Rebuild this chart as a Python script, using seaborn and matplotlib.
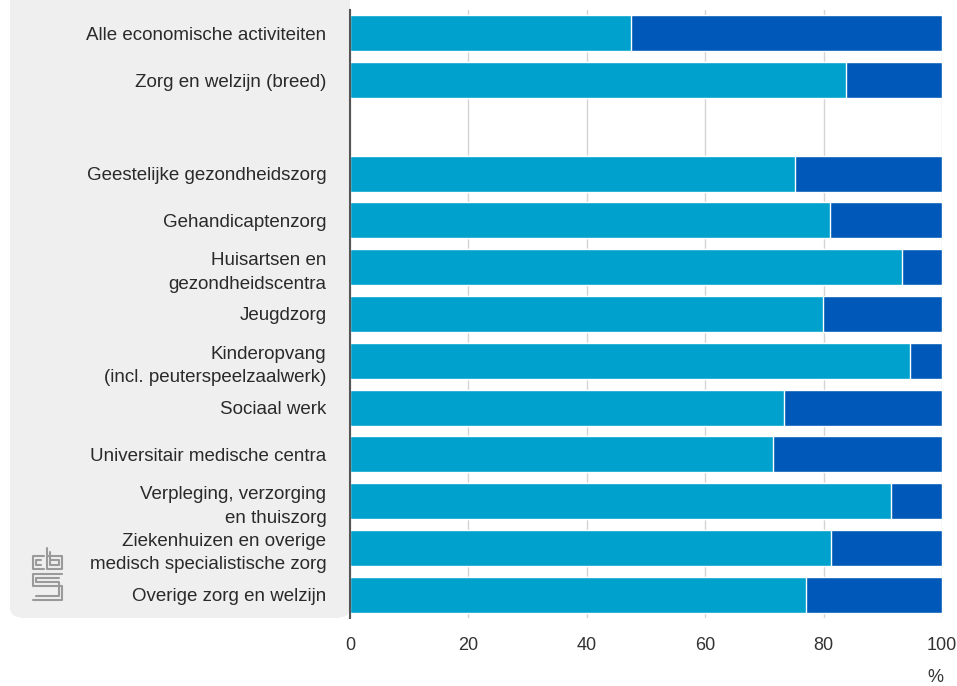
import pandas as pd
import matplotlib
matplotlib.use("Agg")
import matplotlib.pyplot as plt
import seaborn as sns
from matplotlib.patches import FancyBboxPatch
from matplotlib.lines import Line2D

# categorieen (lege rij tussen totaal en branches)
categories = [
    "Alle economische activiteiten",
    "Zorg en welzijn (breed)",
    " ",
    "Geestelijke gezondheidszorg",
    "Gehandicaptenzorg",
    "Huisartsen en\ngezondheidscentra",
    "Jeugdzorg",
    "Kinderopvang\n(incl. peuterspeelzaalwerk)",
    "Sociaal werk",
    "Universitair medische centra",
    "Verpleging, verzorging\nen thuiszorg",
    "Ziekenhuizen en overige\nmedisch specialistische zorg",
    "Overige zorg en welzijn",
]
# aandeel lichte reeks (%), rest tot 100 is donkere reeks
share_light = [47.5, 83.8, None, 75.2, 81.1, 93.2, 79.9, 94.6, 73.3, 71.5, 91.4, 81.3, 77.0]
total = [100, 100, None, 100, 100, 100, 100, 100, 100, 100, 100, 100, 100]
x_ticks = [0, 20, 40, 60, 80, 100]

light_blue = "#00a1cd"
dark_blue = "#0058b8"

sns.set_style("white")
plt.rcParams["font.family"] = ["Liberation Sans", "DejaVu Sans"]

df = pd.DataFrame({"cat": categories, "light": share_light, "total": total})
df = df.dropna()

fig = plt.figure(figsize=(9.57, 6.86), dpi=100)

# grijs paneel achter de labels
panel = FancyBboxPatch((10 / 957, 1 - 618 / 686), (350 - 10) / 957, 1.2,
                       boxstyle="round,pad=0,rounding_size=0.015",
                       transform=fig.transFigure, facecolor="#efefef",
                       edgecolor="none", zorder=-1)
fig.patches.append(panel)

ax = fig.add_axes([350 / 957, 1 - 618 / 686, (942 - 350) / 957, (618 - 10) / 686])
ax.set_facecolor("none")

sns.barplot(data=df, y="cat", x="total", order=categories, color=dark_blue,
            width=0.77, edgecolor="white", linewidth=1, saturation=1, ax=ax, zorder=2)
sns.barplot(data=df, y="cat", x="light", order=categories, color=light_blue,
            width=0.77, edgecolor="white", linewidth=1, saturation=1, ax=ax, zorder=3)

ax.set_xlim(0, 100)
ax.set_ylim(12.5, -0.5)
ax.set_xticks(x_ticks)
ax.grid(axis="x", color="#d4d4d4", linewidth=1, zorder=0)
ax.set_axisbelow(True)
ax.set_xlabel("")
ax.set_ylabel("")
for s in ["top", "right", "bottom"]:
    ax.spines[s].set_visible(False)
ax.spines["left"].set_color("#555555")
ax.spines["left"].set_linewidth(1.5)
ax.spines["left"].set_zorder(5)
ax.tick_params(axis="y", length=0, pad=17, labelsize=13.5, labelcolor="#2a2a2a")
ax.tick_params(axis="x", length=0, pad=14, labelsize=13, labelcolor="#333333")
for lab in ax.get_yticklabels():
    lab.set_multialignment("right")
    lab.set_linespacing(1.5)

fig.text(935 / 957, 1 - 678 / 686, "%", ha="center", va="center", fontsize=13, color="#333333")

# cbs-logo (vereenvoudigd)
logo_c = "#9a9a9a"
def fl(xs, ys):
    fig.lines.append(Line2D([x / 957 for x in xs], [1 - y / 686 for y in ys],
                            transform=fig.transFigure, color=logo_c, linewidth=1.5))
fl([44, 33, 33, 44], [556, 556, 569, 569])
fl([41, 36, 36, 41], [560, 560, 565, 565])
fl([47, 47, 62, 62, 47], [548, 569, 569, 556, 556])
fl([50, 50, 59, 59, 50], [552, 565, 565, 560, 560])
fl([62, 33, 33, 62, 62, 33], [574, 574, 586, 586, 600, 600])
fl([59, 36, 36, 59, 59, 36], [578, 578, 582, 582, 596, 596])

fig.savefig("out.png", dpi=100)
